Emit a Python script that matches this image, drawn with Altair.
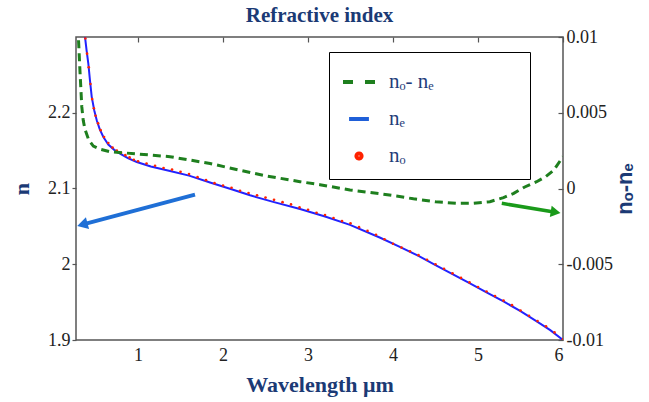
import math
import altair as alt
import pandas as pd

# ---------------- data ----------------
S_DIFF = "nₒ- nₑ"
S_NE = "nₑ"
S_NO = "nₒ"
series_names = [S_DIFF, S_NE, S_NO]

ne_wl = [0.36, 0.376, 0.395, 0.415, 0.435, 0.455, 0.485, 0.514, 0.55, 0.592, 0.65, 0.72,
         0.788, 0.88, 0.985, 1.15, 1.376, 1.6, 1.847, 2.1, 2.318, 2.6, 2.906, 3.2, 3.494,
         3.85, 4.08, 4.3, 4.5, 4.7, 4.9, 5.1, 5.3, 5.5, 5.7, 5.85, 6.0]
ne_val = [2.33, 2.300, 2.282, 2.265, 2.242, 2.221, 2.203, 2.190, 2.178, 2.168, 2.158, 2.151,
          2.146, 2.140, 2.135, 2.129, 2.123, 2.117, 2.108, 2.099, 2.091, 2.082, 2.073, 2.063,
          2.052, 2.035, 2.023, 2.011, 1.999, 1.987, 1.975, 1.963, 1.951, 1.938, 1.924, 1.913, 1.900]

no_wl = [0.38, 0.40, 0.42, 0.44, 0.46, 0.48, 0.50, 0.53, 0.56, 0.60, 0.65, 0.70, 0.75, 0.80,
         0.85, 0.90, 0.95, 1.00, 1.10, 1.20, 1.30, 1.40, 1.50, 1.60, 1.70, 1.80, 1.90, 2.00,
         2.10, 2.20, 2.30, 2.40, 2.50, 2.60, 2.70, 2.80, 2.90, 3.00, 3.10, 3.20, 3.30, 3.40,
         3.50, 3.60, 3.70, 3.80, 3.90, 4.00, 4.10, 4.20, 4.30, 4.40, 4.50, 4.60, 4.70, 4.80,
         4.90, 5.00, 5.10, 5.20, 5.30, 5.40, 5.50, 5.60, 5.70, 5.80, 5.90, 6.00]
no_val = [2.298, 2.278, 2.260, 2.238, 2.218, 2.206, 2.196, 2.186, 2.177, 2.168, 2.160, 2.154,
          2.150, 2.147, 2.144, 2.141, 2.138, 2.136, 2.133, 2.130, 2.127, 2.125, 2.122, 2.119,
          2.115, 2.111, 2.107, 2.104, 2.101, 2.097, 2.094, 2.091, 2.088, 2.085, 2.082, 2.079,
          2.075, 2.072, 2.068, 2.065, 2.061, 2.057, 2.054, 2.049, 2.044, 2.039, 2.033, 2.027,
          2.022, 2.017, 2.012, 2.006, 2.000, 1.994, 1.988, 1.982, 1.976, 1.970, 1.964, 1.958,
          1.952, 1.946, 1.939, 1.932, 1.925, 1.918, 1.910, 1.901]

diff_wl = [0.285, 0.298, 0.318, 0.338, 0.355, 0.376, 0.42, 0.474, 0.55, 0.671, 0.985, 1.376,
           1.847, 2.32, 2.52, 2.906, 3.14, 3.494, 3.85, 4.04, 4.24, 4.5, 4.75, 4.95, 5.14,
           5.3, 5.42, 5.55, 5.69, 5.8, 5.89, 6.0]
diff_val = [0.0115, 0.0100, 0.0076, 0.0054, 0.0045, 0.0039, 0.0032, 0.0028, 0.0026, 0.00243,
            0.00228, 0.0021, 0.00165, 0.00105, 0.00082, 0.00045, 0.00025, -0.0001, -0.00035,
            -0.0005, -0.00068, -0.00088, -0.00098, -0.00097, -0.00087, -0.0006, -0.00032,
            0.0001, 0.00045, 0.0008, 0.0012, 0.0021]

# annotation arrows (start, head) in data units
blue_arrow_wl = [1.67, 0.365]
blue_arrow_n = [2.092, 2.053]
green_arrow_wl = [5.28, 5.894]
green_arrow_d = [-0.00098, -0.00155]

x_ticks = [1, 2, 3, 4, 5, 6]
n_ticks = [1.9, 2.0, 2.1, 2.2]
d_ticks = [-0.01, -0.005, 0, 0.005, 0.01]

# ---------------- layout / style ----------------
W, H = 487, 303
X_DOM = [0.27, 6]
N_DOM = [1.9, 2.3]
D_DOM = [-0.01, 0.01]
NAVY = "#1b3a75"
SERIF = "Liberation Serif, Times New Roman, serif"
SANS = "Liberation Sans, Arial, sans-serif"
GREEN = "#1e7f1e"
BLUE_LINE = "#2222ff"
BLUE_LEG = "#1f5fd8"
RED = "#ff2200"
BLUE_ARROW = "#1f6fd6"
GREEN_ARROW = "#1a9a1a"
TICK = 5

def head_angle(x0, y0, x1, y1, ydom):
    dx = (x1 - x0) * W / (X_DOM[1] - X_DOM[0])
    dy = -(y1 - y0) * H / (ydom[1] - ydom[0])
    return (math.degrees(math.atan2(dx, -dy)) + 360) % 360

def xs():
    return alt.Scale(domain=X_DOM, nice=False, zero=False)

def ns():
    return alt.Scale(domain=N_DOM, nice=False, zero=False)

def ds():
    return alt.Scale(domain=D_DOM, nice=False, zero=False)

ne_df = pd.DataFrame({"x": ne_wl, "n": ne_val})
no_df = pd.DataFrame({"x": no_wl, "n": no_val})
diff_df = pd.DataFrame({"x": diff_wl, "d": diff_val})

# inward ticks on top/bottom (x) and right (y) are drawn as dashed grid lines
bottom_axis = alt.Axis(
    values=x_ticks, title="Wavelength μm", domain=False, ticks=False,
    grid=True, gridColor="#555", gridWidth=1.2, gridDash=[TICK, H - TICK], gridOpacity=1,
    labelPadding=6,
    labelFont=SERIF, labelFontSize=18, labelColor="#222",
    titleFont=SERIF, titleFontSize=22, titleFontWeight="bold", titleColor=NAVY,
    titlePadding=10,
)
left_axis = alt.Axis(
    orient="left", values=n_ticks, title="n", grid=False, domain=False, format=".1~f",
    tickColor="#555", tickSize=4, tickWidth=1.2, labelPadding=2,
    labelFont=SERIF, labelFontSize=18, labelColor="#222",
    titleFont=SERIF, titleFontSize=22, titleFontWeight="bold", titleColor=NAVY,
    titlePadding=14,
)
right_axis = alt.Axis(
    orient="right", values=d_ticks, title="nₒ-nₑ", domain=False, ticks=False,
    grid=True, gridColor="#555", gridWidth=1.2, gridDash=[TICK, 2000], gridOpacity=1,
    labelExpr="datum.value < 0 ? '-' + format(-datum.value, '~g') : format(datum.value, '~g')",
    labelPadding=3,
    labelFont=SERIF, labelFontSize=18, labelColor="#222",
    titleFont=SANS, titleFontSize=22, titleFontWeight="bold", titleColor=NAVY,
    titleAngle=270, titlePadding=24,
)

# legend built from the scales of a data-less carrier layer
legend = alt.Legend(
    title="MMMMMMM", titleOrient="right", titleFontSize=13.3, titleColor="white", titlePadding=6,
    orient="none", legendX=253, legendY=15, direction="vertical",
    fillColor="white", strokeColor="black", padding=12, rowPadding=9,
    labelFont=SERIF, labelFontSize=21, labelColor="#1f3d7a", labelOffset=12,
    symbolSize=1024, symbolStrokeWidth=4, symbolOpacity=1,
)
DOT_PATH = "M-0.16,0A0.16,0.16,0,1,1,0.16,0A0.16,0.16,0,1,1,-0.16,0Z"
SHORT_PATH = "M-0.62,0L0.62,0"
carrier = alt.Chart(pd.DataFrame({"series": series_names})).transform_filter(
    "false").mark_point(filled=False, strokeWidth=4, opacity=1).encode(
    color=alt.Color("series:N", legend=legend,
                    scale=alt.Scale(domain=series_names, range=[GREEN, BLUE_LEG, RED])),
    shape=alt.Shape("series:N", legend=legend,
                    scale=alt.Scale(domain=series_names, range=["stroke", SHORT_PATH, DOT_PATH])),
    strokeDash=alt.StrokeDash("series:N", legend=legend,
                              scale=alt.Scale(domain=series_names, range=[[10, 12], [1, 0], [1, 0]])),
)

def X():
    return alt.X("x:Q", scale=xs(), axis=bottom_axis)

ne_line = alt.Chart(ne_df).mark_line(color=BLUE_LINE, strokeWidth=2, clip=True).encode(
    x=X(), y=alt.Y("n:Q", scale=ns(), axis=left_axis),
)
no_pts = alt.Chart(no_df).mark_point(filled=True, size=7, opacity=1, color=RED, clip=True).encode(
    x=X(), y=alt.Y("n:Q", scale=ns(), axis=None),
)
ba_df = pd.DataFrame({"x": blue_arrow_wl, "n": blue_arrow_n})
blue_arrow = alt.Chart(ba_df).mark_line(color=BLUE_ARROW, strokeWidth=4).encode(
    x=X(), y=alt.Y("n:Q", scale=ns(), axis=None))
bh_df = pd.DataFrame({"x": [blue_arrow_wl[1]], "n": [blue_arrow_n[1]]})
blue_head = alt.Chart(bh_df).mark_point(
    shape="triangle", filled=True, size=150, opacity=1, color=BLUE_ARROW,
    angle=head_angle(blue_arrow_wl[0], blue_arrow_n[0], blue_arrow_wl[1], blue_arrow_n[1], N_DOM),
).encode(x=X(), y=alt.Y("n:Q", scale=ns(), axis=None))

diff_line = alt.Chart(diff_df).mark_line(
    color=GREEN, strokeWidth=3, strokeDash=[8, 5], clip=True).encode(
    x=X(), y=alt.Y("d:Q", scale=ds(), axis=right_axis),
)
ga_df = pd.DataFrame({"x": green_arrow_wl, "d": green_arrow_d})
green_arrow = alt.Chart(ga_df).mark_line(color=GREEN_ARROW, strokeWidth=3.5).encode(
    x=X(), y=alt.Y("d:Q", scale=ds(), axis=None))
gh_df = pd.DataFrame({"x": [green_arrow_wl[1]], "d": [green_arrow_d[1]]})
green_head = alt.Chart(gh_df).mark_point(
    shape="triangle", filled=True, size=130, opacity=1, color=GREEN_ARROW,
    angle=head_angle(green_arrow_wl[0], green_arrow_d[0], green_arrow_wl[1], green_arrow_d[1], D_DOM),
).encode(x=X(), y=alt.Y("d:Q", scale=ds(), axis=None))

chart = alt.layer(
    ne_line, no_pts, blue_arrow, blue_head, diff_line, green_arrow, green_head, carrier
).resolve_scale(y="independent").properties(
    width=W, height=H,
    autosize=alt.AutoSizeParams(type="none"),
    padding={"left": 76, "top": 37, "right": 86, "bottom": 62},
    title=alt.TitleParams("Refractive index", font=SERIF, fontSize=21, fontWeight="bold",
                          color=NAVY, anchor="middle", offset=2),
    background="white",
).configure_view(stroke="#555", strokeWidth=1.5)

chart.save("out.html", embed_options={"renderer": "svg", "actions": False})
